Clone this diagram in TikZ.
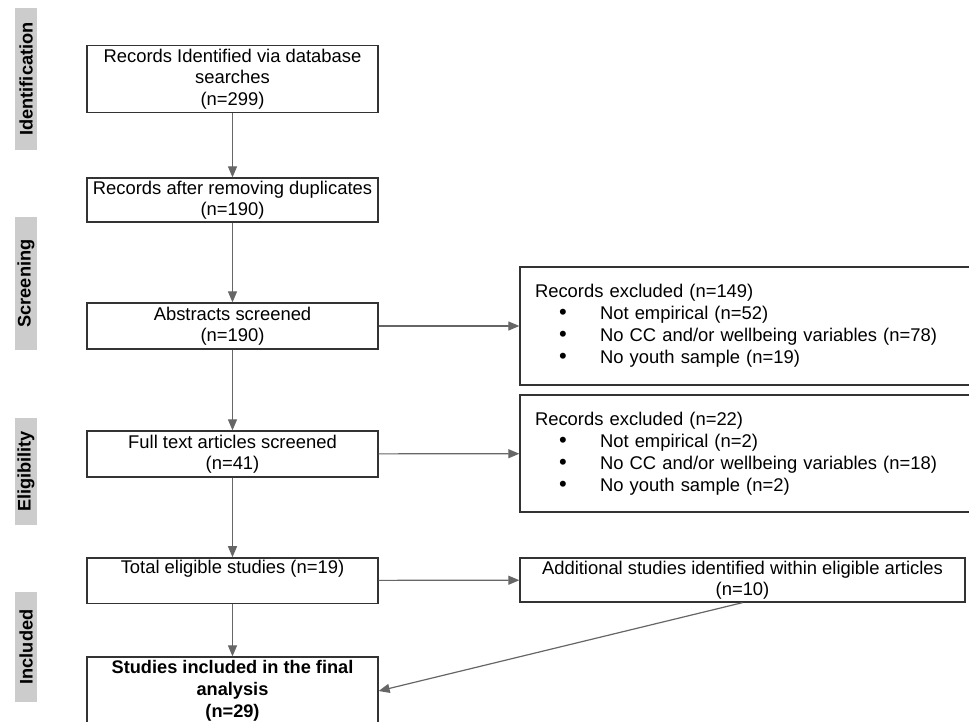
\documentclass[tikz,border=0pt]{standalone}
\usepackage{fontspec}
\setmainfont{Liberation Sans}
\usetikzlibrary{arrows.meta}
\newcommand{\bl}{\makebox[65pt][l]{\hspace{24pt}\smash{\fontsize{22}{22}\selectfont•}}}
\begin{document}
\begin{tikzpicture}[x=1pt,y=-1pt,
  box/.style={draw=black!80, line width=1.3pt, minimum width=291pt, inner sep=2pt, align=center, font=\fontsize{18.4}{21.5}\selectfont},
  rbox/.style={draw=black!80, line width=1.3pt, minimum width=460pt, text width=430pt, inner xsep=15pt, align=left, font=\fontsize{18.4}{22}\selectfont},
  side/.style={fill=gray!40, rotate=90, minimum height=22pt, inner sep=0pt, font=\bfseries\fontsize{18.2}{22}\selectfont},
  arr/.style={draw=black!60, line width=1.2pt, -{Triangle[length=11pt,width=9pt]}}]
\useasboundingbox (0,0) rectangle (969,721);

% phase labels
\node[side, minimum width=142pt] (sI) at (26,79) {Identification};
\node[side, minimum width=133pt] (sS) at (26,283.5) {Screening};
\node[side, minimum width=107pt] (sE) at (26,471.5) {Eligibility};
\node[side, minimum width=110pt] (sN) at (26,647) {Included};

% main column
\node[box, minimum height=67pt] (b1) at (232.5,79) {Records Identified via database\\searches\\(n=299)};
\node[box, minimum height=44pt] (b2) at (232.5,200) {Records after removing duplicates\\(n=190)};
\node[box, minimum height=46pt] (b3) at (232.5,326) {Abstracts screened\\(n=190)};
\node[box, minimum height=46pt] (b4) at (232.5,454) {Full text articles screened\\(n=41)};
\node[box, minimum height=45pt] (b5) at (232.5,580.5) {Total eligible studies (n=19)\\\strut};
\node[box, minimum height=68pt, font=\bfseries\fontsize{18.2}{22}\selectfont] (b6) at (232.5,691) {Studies included in the final\\analysis\\(n=29)};

% right column
\node[rbox, minimum height=118pt] (r1) at (750,326) {Records excluded (n=149)\\
\bl Not empirical (n=52)\\
\bl No CC and/or wellbeing variables (n=78)\\
\bl No youth sample (n=19)};
\node[rbox, minimum height=117pt] (r2) at (750,453.5) {Records excluded (n=22)\\
\bl Not empirical (n=2)\\
\bl No CC and/or wellbeing variables (n=18)\\
\bl No youth sample (n=2)};
\node[box, minimum width=445pt, minimum height=44pt] (r3) at (742.5,580) {Additional studies identified within eligible articles\\(n=10)};

% connectors
\draw[arr] (b1) -- (b2);
\draw[arr] (b2) -- (b3);
\draw[arr] (b3) -- (b4);
\draw[arr] (b4) -- (b5);
\draw[arr] (b5) -- (b6);
\draw[arr] (b3) -- (r1);
\draw[arr] (b4) -- (r2);
\draw[arr] (b5) -- (r3);
\draw[arr] (r3.south) -- (b6.east);
\end{tikzpicture}
\end{document}
